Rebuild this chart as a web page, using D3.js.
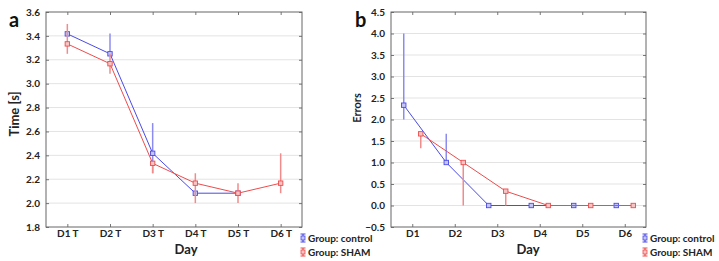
<!DOCTYPE html>
<html>
<head>
<meta charset="utf-8">
<script src="https://cdn.jsdelivr.net/npm/d3@7"></script>
<style>
  body { margin: 0; background: #fff; }
  text { font-family: Lato, "Open Sans", sans-serif; font-weight: bold; }
</style>
</head>
<body>
<div id="chart"></div>
<script>
// Panel a: time per trial day
const daysA = ['D1 T', 'D2 T', 'D3 T', 'D4 T', 'D5 T', 'D6 T'];
const timeControl = [3.417, 3.25, 2.417, 2.083, 2.083, null];
const timeControlLo = [3.40, 3.25, 2.25, 2.083, 2.083, null];
const timeControlHi = [3.43, 3.42, 2.67, 2.083, 2.083, null];
const timeSham = [3.333, 3.167, 2.333, 2.167, 2.083, 2.167];
const timeShamLo = [3.25, 3.083, 2.25, 2.0, 2.0, 2.083];
const timeShamHi = [3.50, 3.25, 2.333, 2.25, 2.167, 2.417];
const ticksA = [1.8, 2.0, 2.2, 2.4, 2.6, 2.8, 3.0, 3.2, 3.4, 3.6];

// Panel b: errors per day
const daysB = ['D1', 'D2', 'D3', 'D4', 'D5', 'D6'];
const errControl = [2.333, 1.0, 0, 0, 0, 0];
const errControlLo = [2.0, 1.0, 0, 0, 0, 0];
const errControlHi = [4.0, 1.667, 0, 0, 0, 0];
const errSham = [1.667, 1.0, 0.333, 0, 0, 0];
const errShamLo = [1.333, 0, 0, 0, 0, 0];
const errShamHi = [1.667, 1.0, 0.333, 0, 0, 0];
const ticksB = [-0.5, 0.0, 0.5, 1.0, 1.5, 2.0, 2.5, 3.0, 3.5, 4.0, 4.5];

const groups = ['Group: control', 'Group: SHAM'];
const colors = ['#4a4ae6', '#ee4c4c'];
const barColors = ['#8c8cf0', '#f08c8c'];
const fills = ['#c4c4f6', '#f6c4c4'];

const svg = d3.select('#chart')
  .append('svg')
  .attr('width', 719)
  .attr('height', 261);

function drawPanel(p) {
  const x = d3.scaleLinear().domain([0.5, 6.5]).range([p.left, p.right]);
  const y = d3.scaleLinear().domain([p.ticks[0], p.ticks[p.ticks.length - 1]]).range([p.bottom, p.top]);
  const g = svg.append('g');

  // grid lines
  g.append('g')
    .selectAll('line')
    .data(p.ticks.slice(1, -1))
    .join('line')
    .attr('x1', p.left).attr('x2', p.right)
    .attr('y1', d => y(d)).attr('y2', d => y(d))
    .attr('stroke', '#e3e3e3');

  // axes
  const fmt = d3.format('.1f');
  const left = g.append('g')
    .attr('transform', `translate(${p.left},0)`)
    .call(d3.axisLeft(y).tickValues(p.ticks).tickSize(-3).tickPadding(6).tickFormat(fmt));
  const bottom = g.append('g')
    .attr('transform', `translate(0,${p.bottom})`)
    .call(d3.axisBottom(x).tickValues([1, 2, 3, 4, 5, 6]).tickSize(-3).tickPadding(3)
      .tickFormat(d => p.days[d - 1]));
  const top = g.append('g')
    .attr('transform', `translate(0,${p.top})`)
    .call(d3.axisTop(x).tickValues([1, 2, 3, 4, 5, 6]).tickSize(-3).tickFormat(''));
  const right = g.append('g')
    .attr('transform', `translate(${p.right},0)`)
    .call(d3.axisRight(y).tickValues(p.ticks).tickSize(-3).tickFormat(''));
  [left, bottom, top, right].forEach(a => {
    a.select('.domain').remove();
    a.selectAll('line').attr('stroke', '#777');
    a.selectAll('text').style('font-size', '10px').attr('fill', '#222');
  });

  // frame
  g.append('rect')
    .attr('x', p.left).attr('y', p.top)
    .attr('width', p.right - p.left).attr('height', p.bottom - p.top)
    .attr('fill', 'none').attr('stroke', '#666');

  // series
  p.series.forEach((s, i) => {
    const pts = s.mean.map((m, j) => ({ x: j + 1 + s.off, m: m, lo: s.lo[j], hi: s.hi[j] }))
      .filter(d => d.m != null);

    g.append('g')
      .selectAll('line')
      .data(pts.filter(d => d.hi - d.lo > 0.001))
      .join('line')
      .attr('x1', d => x(d.x)).attr('x2', d => x(d.x))
      .attr('y1', d => y(d.lo)).attr('y2', d => y(d.hi))
      .attr('stroke', barColors[i]).attr('stroke-width', 1.5);

    g.append('path')
      .datum(pts)
      .attr('d', d3.line().x(d => x(d.x)).y(d => y(d.m)))
      .attr('fill', 'none')
      .attr('stroke', colors[i])
      .attr('stroke-width', 1);

    g.append('g')
      .selectAll('rect')
      .data(pts)
      .join('rect')
      .attr('x', d => x(d.x) - 2.2).attr('y', d => y(d.m) - 2.2)
      .attr('width', 4.4).attr('height', 4.4)
      .attr('fill', fills[i]).attr('stroke', colors[i]).attr('stroke-width', 0.9);
  });

  // labels
  g.append('text')
    .attr('x', p.dayX).attr('y', 254)
    .attr('text-anchor', 'middle')
    .style('font-size', '13px').attr('fill', '#222')
    .text('Day');
  g.append('text')
    .attr('transform', `translate(${p.yLabX},${p.yLabY}) rotate(-90)`)
    .attr('text-anchor', 'middle')
    .style('font-size', p.yLabSize).attr('fill', '#222')
    .text(p.yLabel);
  g.append('text')
    .attr('x', p.letterX).attr('y', 27)
    .style('font-size', '20px').attr('fill', '#111')
    .text(p.letter);

  // legend
  groups.forEach((name, i) => {
    const ly = 238 + i * 14;
    const lx = p.legendX;
    g.append('line')
      .attr('x1', lx).attr('x2', lx).attr('y1', ly - 4).attr('y2', ly + 4)
      .attr('stroke', colors[i]).attr('stroke-width', 1.2);
    [ly - 4, ly + 4].forEach(cy => g.append('line')
      .attr('x1', lx - 2.5).attr('x2', lx + 2.5).attr('y1', cy).attr('y2', cy)
      .attr('stroke', colors[i]).attr('stroke-width', 1));
    g.append('rect')
      .attr('x', lx - 2).attr('y', ly - 2).attr('width', 4).attr('height', 4)
      .attr('fill', fills[i]).attr('stroke', colors[i]).attr('stroke-width', 0.8);
    g.append('text')
      .attr('x', lx + 5).attr('y', ly + 3.5)
      .style('font-size', '10px').attr('fill', '#222')
      .text(name);
  });
}

drawPanel({
  left: 46, right: 302, top: 12, bottom: 227,
  ticks: ticksA, days: daysA, letter: 'a', letterX: 9,
  yLabel: 'Time [s]', yLabX: 19, yLabY: 114, yLabSize: '13px',
  dayX: 186, legendX: 303,
  series: [
    { mean: timeControl, lo: timeControlLo, hi: timeControlHi, off: 0 },
    { mean: timeSham, lo: timeShamLo, hi: timeShamHi, off: 0 }
  ]
});

drawPanel({
  left: 391, right: 646, top: 12, bottom: 227,
  ticks: ticksB, days: daysB, letter: 'b', letterX: 355,
  yLabel: 'Errors', yLabX: 361, yLabY: 108, yLabSize: '11px',
  dayX: 528, legendX: 645,
  series: [
    { mean: errControl, lo: errControlLo, hi: errControlHi, off: -0.2 },
    { mean: errSham, lo: errShamLo, hi: errShamHi, off: 0.2 }
  ]
});
</script>
</body>
</html>
